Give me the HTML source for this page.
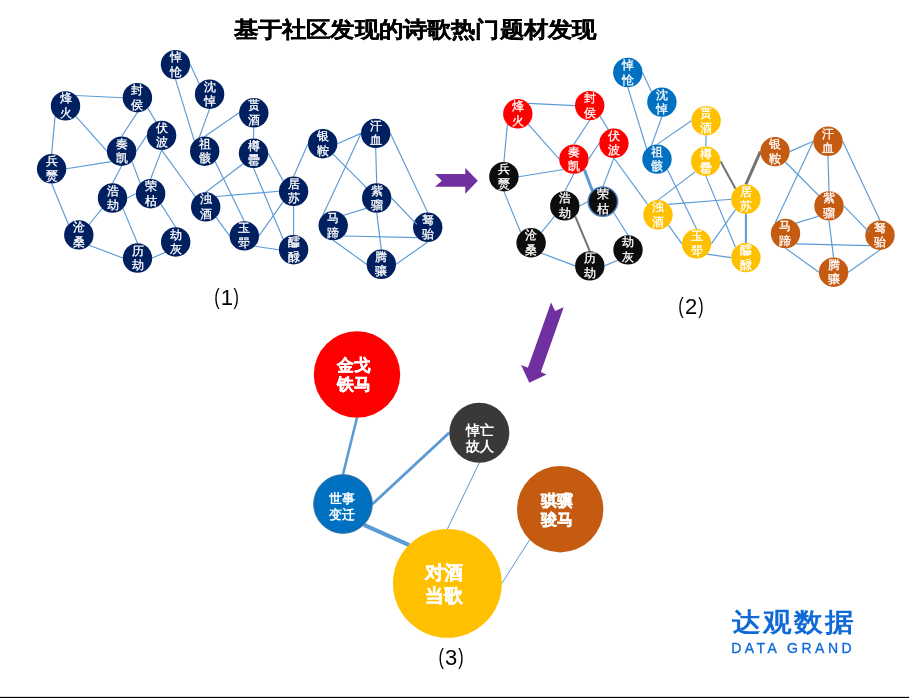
<!DOCTYPE html>
<html><head><meta charset="utf-8"><style>
html,body{margin:0;padding:0;background:#fff;}
body{width:909px;height:698px;overflow:hidden;font-family:"Liberation Sans",sans-serif;}
svg{display:block;will-change:transform;}
.nodes text{font-family:"Liberation Sans",sans-serif;font-size:12.2px;font-weight:normal;fill:#fff;stroke:#fff;stroke-width:0.3px;text-anchor:middle;}
.t{font-family:"Liberation Serif",serif;font-size:24px;font-weight:bold;fill:#000;stroke:#000;stroke-width:0.3px;text-anchor:middle;}
.par{font-family:"Liberation Sans",sans-serif;font-size:22.5px;fill:#000;}
.dig{font-family:"Liberation Sans",sans-serif;font-size:22px;fill:#000;}
.big{font-family:"Liberation Sans",sans-serif;font-weight:bold;fill:#fff;stroke:#fff;stroke-width:0.3px;text-anchor:middle;}
.sm{stroke-width:0px;}
</style></head><body>
<svg width="909" height="698" viewBox="0 0 909 698">
<rect width="909" height="698" fill="#fff"/>
<text transform="translate(415,36.6) scale(1,0.9)" x="0" y="0" class="t">基于社区发现的诗歌热门题材发现</text>
<g class="nodes">
<line x1="75.89" y1="95.51" x2="122.7" y2="97.7" stroke="#5B9BD5" stroke-width="1.15"/>
<line x1="55.11" y1="116.29" x2="51.6" y2="154.1" stroke="#5B9BD5" stroke-width="1.15"/>
<line x1="75.89" y1="116.29" x2="106.9" y2="151.2" stroke="#5B9BD5" stroke-width="1.15"/>
<line x1="137.4" y1="112.4" x2="121.6" y2="136.5" stroke="#5B9BD5" stroke-width="1.15"/>
<line x1="147.79" y1="108.09" x2="163" y2="133.5" stroke="#5B9BD5" stroke-width="1.15"/>
<line x1="136.3" y1="151.2" x2="146.9" y2="135.4" stroke="#5B9BD5" stroke-width="1.15"/>
<line x1="111.21" y1="161.59" x2="66.3" y2="168.8" stroke="#5B9BD5" stroke-width="1.15"/>
<line x1="121.6" y1="165.9" x2="112.5" y2="183.3" stroke="#5B9BD5" stroke-width="1.15"/>
<line x1="131.99" y1="161.59" x2="140.21" y2="183.31" stroke="#5B9BD5" stroke-width="1.15"/>
<line x1="161.6" y1="150.1" x2="150.6" y2="179" stroke="#5B9BD5" stroke-width="1.15"/>
<line x1="161.6" y1="150.1" x2="195.31" y2="196.51" stroke="#5B9BD5" stroke-width="1.15"/>
<line x1="127.2" y1="198" x2="135.9" y2="193.7" stroke="#5B9BD5" stroke-width="1.15"/>
<line x1="102.11" y1="208.39" x2="89.19" y2="224.51" stroke="#5B9BD5" stroke-width="1.15"/>
<line x1="122.89" y1="208.39" x2="137.5" y2="243.3" stroke="#5B9BD5" stroke-width="1.15"/>
<line x1="51.6" y1="183.5" x2="68.41" y2="224.51" stroke="#5B9BD5" stroke-width="1.15"/>
<line x1="89.19" y1="245.29" x2="122.8" y2="258" stroke="#5B9BD5" stroke-width="1.15"/>
<line x1="152.2" y1="258" x2="165.31" y2="252.39" stroke="#5B9BD5" stroke-width="1.15"/>
<line x1="160.99" y1="204.09" x2="175.7" y2="227.3" stroke="#5B9BD5" stroke-width="1.15"/>
<line x1="190.2" y1="64.6" x2="199.21" y2="83.81" stroke="#5B9BD5" stroke-width="1.15"/>
<line x1="175.5" y1="79.3" x2="194.31" y2="140.81" stroke="#5B9BD5" stroke-width="1.15"/>
<line x1="209.6" y1="108.9" x2="196.5" y2="145" stroke="#5B9BD5" stroke-width="1.15"/>
<line x1="204.7" y1="136.5" x2="239.1" y2="112.8" stroke="#5B9BD5" stroke-width="1.15"/>
<line x1="215.09" y1="161.59" x2="244.3" y2="221.2" stroke="#5B9BD5" stroke-width="1.15"/>
<line x1="205.7" y1="192.2" x2="243.11" y2="163.69" stroke="#5B9BD5" stroke-width="1.15"/>
<line x1="216.09" y1="196.51" x2="278.9" y2="191.3" stroke="#5B9BD5" stroke-width="1.15"/>
<line x1="216.09" y1="217.29" x2="229.6" y2="235.9" stroke="#5B9BD5" stroke-width="1.15"/>
<line x1="253.8" y1="127.5" x2="253.5" y2="138.6" stroke="#5B9BD5" stroke-width="1.15"/>
<line x1="268.2" y1="153.3" x2="283.21" y2="180.91" stroke="#5B9BD5" stroke-width="1.15"/>
<line x1="253.5" y1="168" x2="283.21" y2="239.31" stroke="#5B9BD5" stroke-width="1.15"/>
<line x1="293.6" y1="176.6" x2="308" y2="143.7" stroke="#5B9BD5" stroke-width="1.15"/>
<line x1="283.21" y1="201.69" x2="259" y2="235.9" stroke="#5B9BD5" stroke-width="1.15"/>
<line x1="293.6" y1="206" x2="293.6" y2="235" stroke="#5B9BD5" stroke-width="1.15"/>
<line x1="254.69" y1="246.29" x2="278.9" y2="249.7" stroke="#5B9BD5" stroke-width="1.15"/>
<line x1="337.4" y1="143.7" x2="361" y2="133.4" stroke="#5B9BD5" stroke-width="1.15"/>
<line x1="333.09" y1="154.09" x2="366.31" y2="187.61" stroke="#5B9BD5" stroke-width="1.15"/>
<line x1="375.7" y1="148.1" x2="376.7" y2="183.3" stroke="#5B9BD5" stroke-width="1.15"/>
<line x1="361" y1="133.4" x2="322.81" y2="215.21" stroke="#5B9BD5" stroke-width="1.15"/>
<line x1="390.4" y1="133.4" x2="427.7" y2="212.6" stroke="#5B9BD5" stroke-width="1.15"/>
<line x1="366.31" y1="208.39" x2="343.59" y2="215.21" stroke="#5B9BD5" stroke-width="1.15"/>
<line x1="376.7" y1="212.7" x2="381.3" y2="249.6" stroke="#5B9BD5" stroke-width="1.15"/>
<line x1="343.59" y1="235.99" x2="417.31" y2="237.69" stroke="#5B9BD5" stroke-width="1.15"/>
<line x1="333.2" y1="240.3" x2="366.6" y2="264.3" stroke="#5B9BD5" stroke-width="1.15"/>
<line x1="396" y1="264.3" x2="427.7" y2="242" stroke="#5B9BD5" stroke-width="1.15"/>
<circle cx="65.5" cy="105.9" r="14.7" fill="#002060"/>
<circle cx="137.4" cy="97.7" r="14.7" fill="#002060"/>
<circle cx="175.5" cy="64.6" r="14.7" fill="#002060"/>
<circle cx="209.6" cy="94.2" r="14.7" fill="#002060"/>
<circle cx="253.8" cy="112.8" r="14.7" fill="#002060"/>
<circle cx="161.6" cy="135.4" r="14.7" fill="#002060"/>
<circle cx="121.6" cy="151.2" r="14.7" fill="#002060"/>
<circle cx="204.7" cy="151.2" r="14.7" fill="#002060"/>
<circle cx="253.5" cy="153.3" r="14.7" fill="#002060"/>
<circle cx="322.7" cy="143.7" r="14.7" fill="#002060"/>
<circle cx="375.7" cy="133.4" r="14.7" fill="#002060"/>
<circle cx="51.6" cy="168.8" r="14.7" fill="#002060"/>
<circle cx="112.5" cy="198.0" r="14.7" fill="#002060"/>
<circle cx="150.6" cy="193.7" r="14.7" fill="#002060"/>
<circle cx="205.7" cy="206.9" r="14.7" fill="#002060"/>
<circle cx="293.6" cy="191.3" r="14.7" fill="#002060"/>
<circle cx="376.7" cy="198.0" r="14.7" fill="#002060"/>
<circle cx="333.2" cy="225.6" r="14.7" fill="#002060"/>
<circle cx="427.7" cy="227.3" r="14.7" fill="#002060"/>
<circle cx="78.8" cy="234.9" r="14.7" fill="#002060"/>
<circle cx="244.3" cy="235.9" r="14.7" fill="#002060"/>
<circle cx="175.7" cy="242.0" r="14.7" fill="#002060"/>
<circle cx="137.5" cy="258.0" r="14.7" fill="#002060"/>
<circle cx="293.6" cy="249.7" r="14.7" fill="#002060"/>
<circle cx="381.3" cy="264.3" r="14.7" fill="#002060"/>
<line x1="391.4" y1="198" x2="416.9" y2="224.3" stroke="#5B9BD5" stroke-width="1.15"/>
<text x="65.5" y="102.41">烽</text><text x="65.5" y="116.91">火</text>
<text x="137.4" y="94.21">封</text><text x="137.4" y="108.71">侯</text>
<text x="175.5" y="61.11">悼</text><text x="175.5" y="75.61">怆</text>
<text x="209.6" y="90.71">沈</text><text x="209.6" y="105.21">悼</text>
<text x="253.8" y="109.31">贳</text><text x="253.8" y="123.81">酒</text>
<text x="161.6" y="131.91">伏</text><text x="161.6" y="146.41">波</text>
<text x="121.6" y="147.71">奏</text><text x="121.6" y="162.21">凯</text>
<text x="204.7" y="147.71">祖</text><text x="204.7" y="162.21">骸</text>
<text x="253.5" y="149.81">樽</text><text x="253.5" y="164.31">罍</text>
<text x="322.7" y="140.21">银</text><text x="322.7" y="154.71">鞍</text>
<text x="375.7" y="129.91">汗</text><text x="375.7" y="144.41">血</text>
<text x="51.6" y="165.31">兵</text><text x="51.6" y="179.81">燹</text>
<text x="112.5" y="194.51">浩</text><text x="112.5" y="209.01">劫</text>
<text x="150.6" y="190.21">荣</text><text x="150.6" y="204.71">枯</text>
<text x="205.7" y="203.41">浊</text><text x="205.7" y="217.91">酒</text>
<text x="293.6" y="187.81">居</text><text x="293.6" y="202.31">苏</text>
<text x="376.7" y="194.51">紫</text><text x="376.7" y="209.01">骝</text>
<text x="333.2" y="222.11">马</text><text x="333.2" y="236.61">蹄</text>
<text x="427.7" y="223.81">驽</text><text x="427.7" y="238.31">骀</text>
<text x="78.8" y="231.41">沧</text><text x="78.8" y="245.91">桑</text>
<text x="244.3" y="232.41">玉</text><text x="244.3" y="246.91">斝</text>
<text x="175.7" y="238.51">劫</text><text x="175.7" y="253.01">灰</text>
<text x="137.5" y="254.51">历</text><text x="137.5" y="269.01">劫</text>
<text x="293.6" y="246.21">醽</text><text x="293.6" y="260.71">醁</text>
<text x="381.3" y="260.81">腾</text><text x="381.3" y="275.31">骧</text>
</g>
<text transform="translate(214.28,303.80) scale(0.72,1)" class="par">(</text><text x="220.8" y="304.8" class="dig">1</text><text transform="translate(233.38,303.80) scale(0.72,1)" class="par">)</text>
<g class="nodes" transform="translate(452.3,7.9)">
<line x1="75.89" y1="95.51" x2="122.7" y2="97.7" stroke="#5B9BD5" stroke-width="1.15"/>
<line x1="55.11" y1="116.29" x2="51.6" y2="154.1" stroke="#5B9BD5" stroke-width="1.15"/>
<line x1="75.89" y1="116.29" x2="106.9" y2="151.2" stroke="#5B9BD5" stroke-width="1.15"/>
<line x1="137.4" y1="112.4" x2="121.6" y2="136.5" stroke="#5B9BD5" stroke-width="1.15"/>
<line x1="147.79" y1="108.09" x2="163" y2="133.5" stroke="#5B9BD5" stroke-width="1.15"/>
<line x1="136.3" y1="151.2" x2="146.9" y2="135.4" stroke="#5B9BD5" stroke-width="1.15"/>
<line x1="111.21" y1="161.59" x2="66.3" y2="168.8" stroke="#5B9BD5" stroke-width="1.15"/>
<line x1="121.6" y1="165.9" x2="112.5" y2="183.3" stroke="#5B9BD5" stroke-width="1.15"/>
<line x1="131.99" y1="161.59" x2="140.21" y2="183.31" stroke="#5B9BD5" stroke-width="3.0"/>
<line x1="161.6" y1="150.1" x2="150.6" y2="179" stroke="#5B9BD5" stroke-width="1.15"/>
<line x1="161.6" y1="150.1" x2="195.31" y2="196.51" stroke="#5B9BD5" stroke-width="1.15"/>
<line x1="127.2" y1="198" x2="135.9" y2="193.7" stroke="#5B9BD5" stroke-width="1.15"/>
<line x1="102.11" y1="208.39" x2="89.19" y2="224.51" stroke="#5B9BD5" stroke-width="1.15"/>
<line x1="122.89" y1="208.39" x2="137.5" y2="243.3" stroke="#767171" stroke-width="2.0"/>
<line x1="51.6" y1="183.5" x2="68.41" y2="224.51" stroke="#5B9BD5" stroke-width="1.15"/>
<line x1="89.19" y1="245.29" x2="122.8" y2="258" stroke="#5B9BD5" stroke-width="1.15"/>
<line x1="152.2" y1="258" x2="165.31" y2="252.39" stroke="#5B9BD5" stroke-width="1.15"/>
<line x1="160.99" y1="204.09" x2="175.7" y2="227.3" stroke="#5B9BD5" stroke-width="1.15"/>
<line x1="190.2" y1="64.6" x2="199.21" y2="83.81" stroke="#5B9BD5" stroke-width="1.15"/>
<line x1="175.5" y1="79.3" x2="194.31" y2="140.81" stroke="#5B9BD5" stroke-width="1.15"/>
<line x1="209.6" y1="108.9" x2="196.5" y2="145" stroke="#5B9BD5" stroke-width="1.15"/>
<line x1="204.7" y1="136.5" x2="239.1" y2="112.8" stroke="#5B9BD5" stroke-width="1.15"/>
<line x1="215.09" y1="161.59" x2="244.3" y2="221.2" stroke="#5B9BD5" stroke-width="1.15"/>
<line x1="205.7" y1="192.2" x2="243.11" y2="163.69" stroke="#5B9BD5" stroke-width="1.15"/>
<line x1="216.09" y1="196.51" x2="278.9" y2="191.3" stroke="#5B9BD5" stroke-width="1.15"/>
<line x1="216.09" y1="217.29" x2="229.6" y2="235.9" stroke="#5B9BD5" stroke-width="1.15"/>
<line x1="253.8" y1="127.5" x2="253.5" y2="138.6" stroke="#5B9BD5" stroke-width="1.15"/>
<line x1="268.2" y1="153.3" x2="283.21" y2="180.91" stroke="#767171" stroke-width="2.0"/>
<line x1="253.5" y1="168" x2="283.21" y2="239.31" stroke="#5B9BD5" stroke-width="1.15"/>
<line x1="293.6" y1="176.6" x2="308" y2="143.7" stroke="#767171" stroke-width="3.0"/>
<line x1="283.21" y1="201.69" x2="259" y2="235.9" stroke="#5B9BD5" stroke-width="1.15"/>
<line x1="293.6" y1="206" x2="293.6" y2="235" stroke="#5B9BD5" stroke-width="2.0"/>
<line x1="254.69" y1="246.29" x2="278.9" y2="249.7" stroke="#5B9BD5" stroke-width="1.15"/>
<line x1="337.4" y1="143.7" x2="361" y2="133.4" stroke="#5B9BD5" stroke-width="1.15"/>
<line x1="333.09" y1="154.09" x2="366.31" y2="187.61" stroke="#5B9BD5" stroke-width="1.15"/>
<line x1="375.7" y1="148.1" x2="376.7" y2="183.3" stroke="#5B9BD5" stroke-width="1.15"/>
<line x1="361" y1="133.4" x2="322.81" y2="215.21" stroke="#5B9BD5" stroke-width="1.15"/>
<line x1="390.4" y1="133.4" x2="427.7" y2="212.6" stroke="#5B9BD5" stroke-width="1.15"/>
<line x1="366.31" y1="208.39" x2="343.59" y2="215.21" stroke="#5B9BD5" stroke-width="1.15"/>
<line x1="376.7" y1="212.7" x2="381.3" y2="249.6" stroke="#5B9BD5" stroke-width="1.15"/>
<line x1="343.59" y1="235.99" x2="417.31" y2="237.69" stroke="#5B9BD5" stroke-width="1.15"/>
<line x1="333.2" y1="240.3" x2="366.6" y2="264.3" stroke="#5B9BD5" stroke-width="1.15"/>
<line x1="396" y1="264.3" x2="427.7" y2="242" stroke="#5B9BD5" stroke-width="1.15"/>
<circle cx="65.5" cy="105.9" r="14.7" fill="#FF0000"/>
<circle cx="137.4" cy="97.7" r="14.7" fill="#FF0000"/>
<circle cx="175.5" cy="64.6" r="14.7" fill="#0070C0"/>
<circle cx="209.6" cy="94.2" r="14.7" fill="#0070C0"/>
<circle cx="253.8" cy="112.8" r="14.7" fill="#FFC000"/>
<circle cx="161.6" cy="135.4" r="14.7" fill="#FF0000"/>
<circle cx="121.6" cy="151.2" r="14.7" fill="#FF0000"/>
<circle cx="204.7" cy="151.2" r="14.7" fill="#0070C0"/>
<circle cx="253.5" cy="153.3" r="14.7" fill="#FFC000"/>
<circle cx="322.7" cy="143.7" r="14.7" fill="#C55A11"/>
<circle cx="375.7" cy="133.4" r="14.7" fill="#C55A11"/>
<circle cx="51.6" cy="168.8" r="14.7" fill="#0D0D0D"/>
<circle cx="112.5" cy="198.0" r="14.7" fill="#0D0D0D"/>
<circle cx="150.6" cy="193.7" r="14.7" fill="#0D0D0D" stroke="#4A7EBB" stroke-width="1.5"/>
<circle cx="205.7" cy="206.9" r="14.7" fill="#FFC000"/>
<circle cx="293.6" cy="191.3" r="14.7" fill="#FFC000"/>
<circle cx="376.7" cy="198.0" r="14.7" fill="#C55A11"/>
<circle cx="333.2" cy="225.6" r="14.7" fill="#C55A11"/>
<circle cx="427.7" cy="227.3" r="14.7" fill="#C55A11"/>
<circle cx="78.8" cy="234.9" r="14.7" fill="#0D0D0D"/>
<circle cx="244.3" cy="235.9" r="14.7" fill="#FFC000"/>
<circle cx="175.7" cy="242.0" r="14.7" fill="#0D0D0D"/>
<circle cx="137.5" cy="258.0" r="14.7" fill="#0D0D0D"/>
<circle cx="293.6" cy="249.7" r="14.7" fill="#FFC000"/>
<circle cx="381.3" cy="264.3" r="14.7" fill="#C55A11"/>
<line x1="391.4" y1="198" x2="416.9" y2="224.3" stroke="#5B9BD5" stroke-width="1.15"/>
<text x="65.5" y="102.41">烽</text><text x="65.5" y="116.91">火</text>
<text x="137.4" y="94.21">封</text><text x="137.4" y="108.71">侯</text>
<text x="175.5" y="61.11">悼</text><text x="175.5" y="75.61">怆</text>
<text x="209.6" y="90.71">沈</text><text x="209.6" y="105.21">悼</text>
<text x="253.8" y="109.31">贳</text><text x="253.8" y="123.81">酒</text>
<text x="161.6" y="131.91">伏</text><text x="161.6" y="146.41">波</text>
<text x="121.6" y="147.71">奏</text><text x="121.6" y="162.21">凯</text>
<text x="204.7" y="147.71">祖</text><text x="204.7" y="162.21">骸</text>
<text x="253.5" y="149.81">樽</text><text x="253.5" y="164.31">罍</text>
<text x="322.7" y="140.21">银</text><text x="322.7" y="154.71">鞍</text>
<text x="375.7" y="129.91">汗</text><text x="375.7" y="144.41">血</text>
<text x="51.6" y="165.31">兵</text><text x="51.6" y="179.81">燹</text>
<text x="112.5" y="194.51">浩</text><text x="112.5" y="209.01">劫</text>
<text x="150.6" y="190.21">荣</text><text x="150.6" y="204.71">枯</text>
<text x="205.7" y="203.41">浊</text><text x="205.7" y="217.91">酒</text>
<text x="293.6" y="187.81">居</text><text x="293.6" y="202.31">苏</text>
<text x="376.7" y="194.51">紫</text><text x="376.7" y="209.01">骝</text>
<text x="333.2" y="222.11">马</text><text x="333.2" y="236.61">蹄</text>
<text x="427.7" y="223.81">驽</text><text x="427.7" y="238.31">骀</text>
<text x="78.8" y="231.41">沧</text><text x="78.8" y="245.91">桑</text>
<text x="244.3" y="232.41">玉</text><text x="244.3" y="246.91">斝</text>
<text x="175.7" y="238.51">劫</text><text x="175.7" y="253.01">灰</text>
<text x="137.5" y="254.51">历</text><text x="137.5" y="269.01">劫</text>
<text x="293.6" y="246.21">醽</text><text x="293.6" y="260.71">醁</text>
<text x="381.3" y="260.81">腾</text><text x="381.3" y="275.31">骧</text>
</g>
<text transform="translate(678.28,313.10) scale(0.72,1)" class="par">(</text><text x="685" y="314.1" class="dig">2</text><text transform="translate(698.18,313.10) scale(0.72,1)" class="par">)</text>
<polygon points="435,174.1 465.3,174.1 465.3,168.05 477.8,180.8 465.3,193.8 465.3,186.7 435,186.7 441.8,180.8" fill="#7030A0"/>
<polygon points="551.05,302.5 555.1,311.05 563.7,307.2 540.85,371.9 546.6,374.6 529.3,382.8 521.1,365.1 527.9,367.8" fill="#7030A0"/>
<line x1="357" y1="417.6" x2="343" y2="474.4" stroke="#5B9BD5" stroke-width="2.5"/>
<line x1="372.6" y1="504" x2="449.2" y2="432.8" stroke="#5B9BD5" stroke-width="2.9"/>
<line x1="363.9" y1="524.9" x2="409.2" y2="545.2" stroke="#5B9BD5" stroke-width="4.2"/>
<line x1="479.3" y1="462.8" x2="447.4" y2="529" stroke="#5B9BD5" stroke-width="1"/>
<line x1="529.6" y1="539.8" x2="501.8" y2="583.4" stroke="#5B9BD5" stroke-width="1"/>
<circle cx="357" cy="374.5" r="43.2" fill="#FF0000"/>
<circle cx="479.3" cy="432.8" r="30" fill="#3B3838"/>
<circle cx="343" cy="504" r="29.4" fill="#0070C0" stroke="#41719C" stroke-width="0.8"/>
<circle cx="560.2" cy="509.2" r="43.2" fill="#C55A11"/>
<circle cx="447.4" cy="583.4" r="54.4" fill="#FFC000"/>
<text x="353.7" y="371" class="big" font-size="16.6">金戈</text><text x="353.7" y="390" class="big" font-size="16.6">铁马</text>
<text x="480" y="434.5" class="big sm" font-size="13.5">悼亡</text><text x="480" y="450.5" class="big sm" font-size="13.5">故人</text>
<text x="342" y="502.5" class="big sm" font-size="13">世事</text><text x="342" y="518.5" class="big sm" font-size="13">变迁</text>
<text x="557.3" y="505.5" class="big" font-size="16.3">骐骥</text><text x="557.3" y="525.2" class="big" font-size="16.3">骏马</text>
<text x="443.5" y="579.4" class="big" font-size="18.6">对酒</text><text x="443.5" y="602.4" class="big" font-size="18.6">当歌</text>
<text transform="translate(438.58,664.10) scale(0.72,1)" class="par">(</text><text x="445" y="665.1" class="dig">3</text><text transform="translate(458.18,664.10) scale(0.72,1)" class="par">)</text>
<text transform="translate(731.5,631) scale(1,0.909)" x="0" y="0" style="font-family:'Liberation Sans',sans-serif;font-size:29px;font-weight:bold;fill:#0F6AD8;letter-spacing:2.0px">达观数据</text>
<text x="731.2" y="652.9" style="font-family:'Liberation Sans',sans-serif;font-size:14px;fill:#0F6AD8;stroke:#0F6AD8;stroke-width:0.35px;letter-spacing:3.5px">DATA GRAND</text>
<rect x="0" y="696.85" width="909" height="1.15" fill="#000"/>
</svg>
</body></html>
